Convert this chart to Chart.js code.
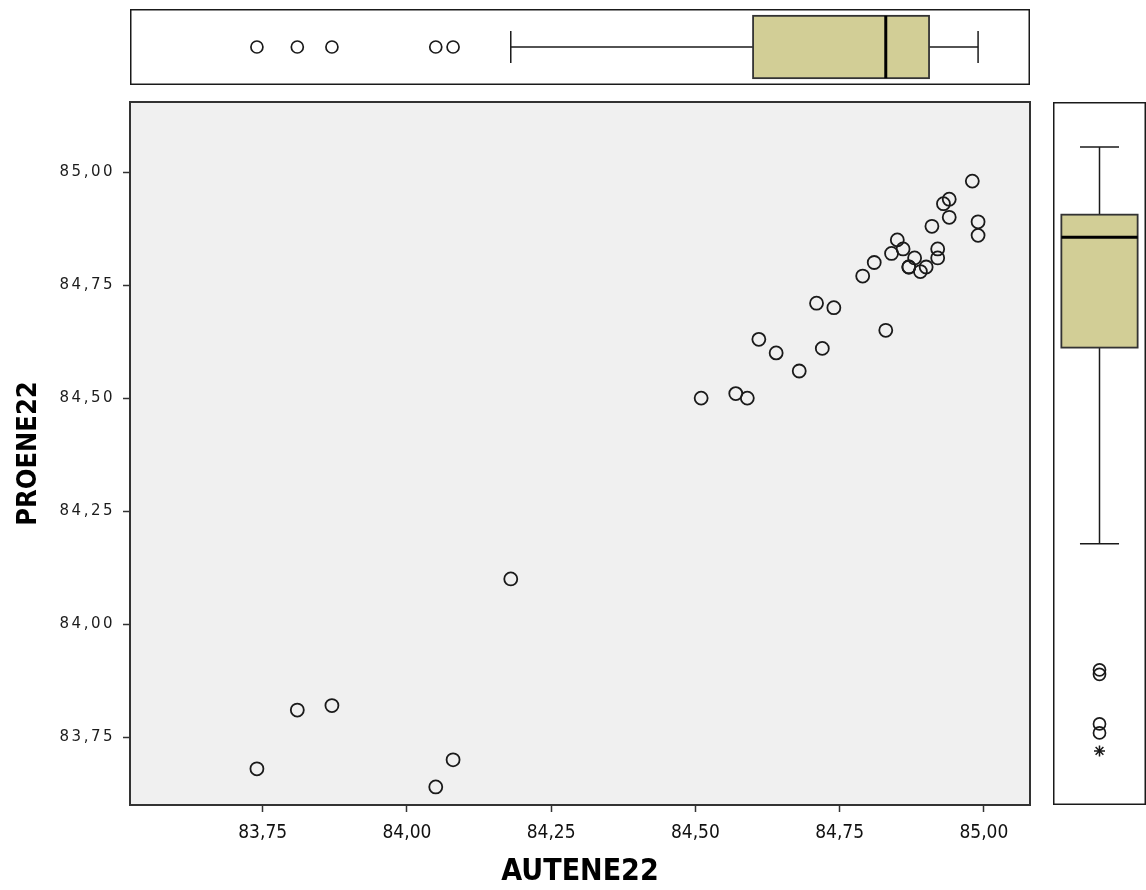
<!DOCTYPE html>
<html>
<head>
<meta charset="utf-8">
<title>AUTENE22 / PROENE22</title>
<script src="https://cdn.jsdelivr.net/npm/chart.js@4.4.1/dist/chart.umd.min.js"></script>
<style>
  html, body { margin: 0; padding: 0; background: #fff; overflow: hidden; }
  #wrap { position: relative; width: 1146px; height: 890px; }
  canvas { position: absolute; }
</style>
</head>
<body>
<div id="wrap">
  <canvas id="main" width="1146" height="890" style="left:0;top:0"></canvas>
  <canvas id="topBox" width="900" height="76" style="left:130px;top:9px"></canvas>
  <canvas id="rightBox" width="93" height="703" style="left:1053px;top:102px"></canvas>
</div>
<script>
// Data (one entry per case)
const autene22 = [84.98, 84.94, 84.93, 84.94, 84.99, 84.99, 84.91, 84.85, 84.86, 84.92,
  84.84, 84.88, 84.92, 84.87, 84.87, 84.90, 84.89, 84.81, 84.79, 84.71,
  84.74, 84.83, 84.61, 84.64, 84.72, 84.68, 84.51, 84.57, 84.59, 84.18,
  83.81, 83.87, 83.74, 84.08, 84.05];
const proene22 = [84.98, 84.94, 84.93, 84.90, 84.89, 84.86, 84.88, 84.85, 84.83, 84.83,
  84.82, 84.81, 84.81, 84.79, 84.79, 84.79, 84.78, 84.80, 84.77, 84.71,
  84.70, 84.65, 84.63, 84.60, 84.61, 84.56, 84.50, 84.51, 84.50, 84.10,
  83.81, 83.82, 83.68, 83.70, 83.64];
const tickValues = [83.75, 84.00, 84.25, 84.50, 84.75, 85.00];
const xRange = [83.52, 85.08];      // also used by both boxplots
const yRange = [83.60, 85.155];

const BOX_FILL = '#d2ce96';
const INK = '#1a1a1a';
const TITLE_FONT = '"DejaVu Sans Condensed", "Liberation Sans Narrow", "DejaVu Sans", sans-serif';

const fmt = v => v.toFixed(2).replace('.', ',');

// Tukey hinges, like SPSS boxplots
function boxStats(values) {
  const s = [...values].sort((a, b) => a - b);
  const n = s.length;
  const med = arr => {
    const m = arr.length;
    return m % 2 ? arr[(m - 1) / 2] : (arr[m / 2 - 1] + arr[m / 2]) / 2;
  };
  const half = Math.ceil(n / 2);
  const q1 = med(s.slice(0, half));
  const q3 = med(s.slice(n - half));
  const iqr = q3 - q1;
  const lo = q1 - 1.5 * iqr, hi = q3 + 1.5 * iqr;
  const loX = q1 - 3 * iqr, hiX = q3 + 3 * iqr;
  const inside = s.filter(v => v >= lo && v <= hi);
  return {
    q1, q3, median: med(s),
    whiskerLo: inside[0], whiskerHi: inside[inside.length - 1],
    outliers: s.filter(v => (v < lo && v >= loX) || (v > hi && v <= hiX)),
    extremes: s.filter(v => v < loX || v > hiX)
  };
}

// draws box, whiskers and frame for the marginal plots
const boxPlotPlugin = {
  id: 'boxPlot',
  beforeDatasetsDraw(chart, args, opts) {
    const { ctx, chartArea: a, scales } = chart;
    const st = opts.stats;
    const valScale = opts.horizontal ? scales.x : scales.y;
    const crossScale = opts.horizontal ? scales.y : scales.x;
    const pt = (v, c) => {
      const pv = valScale.getPixelForValue(v), pc = crossScale.getPixelForValue(c);
      return opts.horizontal ? [pv, pc] : [pc, pv];
    };
    const line = (v1, c1, v2, c2, w) => {
      ctx.beginPath();
      ctx.lineWidth = w;
      ctx.moveTo(...pt(v1, c1));
      ctx.lineTo(...pt(v2, c2));
      ctx.stroke();
    };
    ctx.save();
    ctx.strokeStyle = INK;
    // whiskers
    line(st.whiskerLo, 0.5, st.q1, 0.5, 1.5);
    line(st.q3, 0.5, st.whiskerHi, 0.5, 1.5);
    line(st.whiskerLo, 0.29, st.whiskerLo, 0.71, 1.5);
    line(st.whiskerHi, 0.29, st.whiskerHi, 0.71, 1.5);
    // box
    const [x1, y1] = pt(st.q1, 0.09);
    const [x2, y2] = pt(st.q3, 0.91);
    ctx.fillStyle = BOX_FILL;
    ctx.fillRect(Math.min(x1, x2), Math.min(y1, y2), Math.abs(x2 - x1), Math.abs(y2 - y1));
    ctx.lineWidth = 1.8;
    ctx.strokeStyle = '#333';
    ctx.strokeRect(Math.min(x1, x2), Math.min(y1, y2), Math.abs(x2 - x1), Math.abs(y2 - y1));
    ctx.strokeStyle = '#000';
    line(st.median, 0.09, st.median, 0.91, 3);
    // frame
    ctx.strokeStyle = INK;
    ctx.lineWidth = 1.5;
    ctx.strokeRect(a.left + 0.75, a.top + 0.75, a.width - 1.5, a.height - 1.5);
    ctx.restore();
  }
};

// grey plot area, frame, wide tick text on the y axis
const scatterFrame = {
  id: 'scatterFrame',
  beforeDraw(chart) {
    const { ctx, chartArea: a } = chart;
    ctx.save();
    ctx.fillStyle = '#f0f0f0';
    ctx.fillRect(a.left, a.top, a.width, a.height);
    ctx.restore();
  },
  afterDatasetsDraw(chart) {
    chart.ctx.letterSpacing = '2.5px';
  },
  afterDraw(chart) {
    const { ctx, chartArea: a } = chart;
    ctx.letterSpacing = '0px';
    ctx.save();
    ctx.strokeStyle = '#333';
    ctx.lineWidth = 2;
    ctx.strokeRect(a.left, a.top, a.width, a.height);
    ctx.restore();
  }
};

const fixedTicks = scale => {
  scale.ticks = tickValues.map(v => ({ value: v }));
};

new Chart(document.getElementById('main'), {
  type: 'scatter',
  data: {
    datasets: [{
      data: autene22.map((x, i) => ({ x, y: proene22[i] })),
      pointRadius: 6.5,
      pointHoverRadius: 6.5,
      pointBorderWidth: 1.8,
      borderColor: INK,
      backgroundColor: 'rgba(0,0,0,0)'
    }]
  },
  options: {
    responsive: false,
    animation: false,
    layout: { autoPadding: false, padding: { top: 102, right: 116, left: 0, bottom: 0 } },
    plugins: { legend: { display: false }, tooltip: { enabled: false } },
    scales: {
      x: {
        type: 'linear',
        min: xRange[0], max: xRange[1],
        afterBuildTicks: fixedTicks,
        afterFit: s => { s.height = 85; },
        border: { display: false },
        grid: { drawOnChartArea: false, drawTicks: true, tickLength: 7, tickWidth: 1.5, tickColor: '#333' },
        ticks: { callback: fmt, color: '#111', padding: 10, maxRotation: 0,
          font: { family: TITLE_FONT, size: 19 } },
        title: { display: true, text: 'AUTENE22', color: '#000', padding: { top: 0, bottom: 0 },
          font: { family: TITLE_FONT, size: 30, weight: 'bold' } }
      },
      y: {
        type: 'linear',
        min: yRange[0], max: yRange[1],
        afterBuildTicks: fixedTicks,
        afterFit: s => { s.width = 130; },
        border: { display: false },
        grid: { drawOnChartArea: false, drawTicks: true, tickLength: 7, tickWidth: 1.5, tickColor: '#333' },
        ticks: { callback: fmt, color: '#1c1c1c', padding: 8, z: 1,
          font: { family: '"DejaVu Sans", Verdana, sans-serif', size: 15 } },
        title: { display: true, text: 'PROENE22', color: '#000', padding: { top: 13, bottom: 0 },
          font: { family: TITLE_FONT, size: 27, weight: 'bold' } }
      }
    }
  },
  plugins: [scatterFrame]
});

function marginalBox(canvasId, values, horizontal) {
  const st = boxStats(values);
  const place = v => horizontal ? { x: v, y: 0.5 } : { x: 0.5, y: v };
  const hidden = (min, max) => ({ type: 'linear', min, max, display: false });
  return new Chart(document.getElementById(canvasId), {
    type: 'scatter',
    data: {
      datasets: [{
        data: st.outliers.map(place),
        pointStyle: 'circle',
        pointRadius: 6,
        pointHoverRadius: 6,
        pointBorderWidth: 1.7,
        borderColor: INK,
        backgroundColor: 'rgba(0,0,0,0)'
      }, {
        data: st.extremes.map(place),
        pointStyle: 'star',
        pointRadius: 5.5,
        pointHoverRadius: 5.5,
        pointBorderWidth: 1.5,
        borderColor: INK
      }]
    },
    options: {
      responsive: false,
      animation: false,
      layout: { autoPadding: false, padding: 0 },
      plugins: { legend: { display: false }, tooltip: { enabled: false },
        boxPlot: { stats: st, horizontal } },
      scales: horizontal
        ? { x: hidden(xRange[0], xRange[1]), y: hidden(0, 1) }
        : { x: hidden(0, 1), y: hidden(xRange[0], xRange[1]) }
    },
    plugins: [boxPlotPlugin]
  });
}

marginalBox('topBox', autene22, true);
marginalBox('rightBox', proene22, false);
</script>
</body>
</html>
